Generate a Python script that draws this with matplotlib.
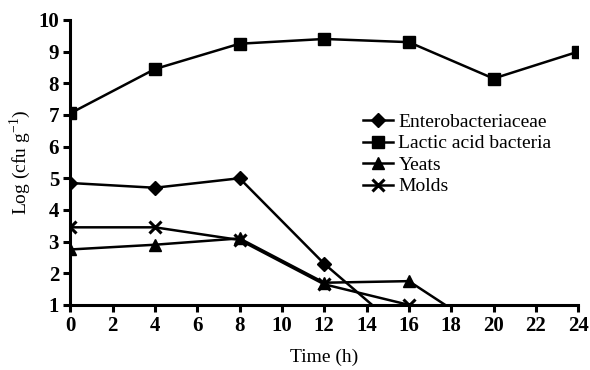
import matplotlib.pyplot as plt

plt.rcParams['font.family'] = 'Liberation Serif'
plt.rcParams['mathtext.fontset'] = 'custom'
plt.rcParams['mathtext.rm'] = 'Liberation Serif'

time = [0, 4, 8, 12, 16, 20, 24]
entero_t = [0, 4, 8, 12, 16]
entero = [4.85, 4.7, 5.0, 2.3, 0.0]
lab = [7.05, 8.45, 9.25, 9.4, 9.3, 8.15, 9.0]
yeast_t = [0, 4, 8, 12, 16, 20]
yeast = [2.75, 2.9, 3.1, 1.7, 1.75, 0.0]
mold_t = [0, 4, 8, 12, 16]
mold = [3.45, 3.45, 3.05, 1.65, 1.0]

fig = plt.figure(figsize=(5.9, 3.7), dpi=100)
ax = fig.add_axes([0.119, 0.176, 0.861, 0.77])

kw = dict(color='black', lw=1.8)
ax.plot(entero_t, entero, marker='D', ms=7, label='Enterobacteriaceae', **kw)
ax.plot(time, lab, marker='s', ms=8.5, label='Lactic acid bacteria', **kw)
ax.plot(yeast_t, yeast, marker='^', ms=8, label='Yeats', **kw)
ax.plot(mold_t, mold, marker='x', ms=8, mew=2.2, label='Molds', **kw)

ax.set_xlim(0, 24)
ax.set_ylim(1, 10)
ax.set_xticks(range(0, 25, 2))
ax.set_yticks(range(1, 11))
for s in ['top', 'right']:
    ax.spines[s].set_visible(False)
for s in ['left', 'bottom']:
    ax.spines[s].set_linewidth(2.2)
ax.tick_params(direction='out', width=2.2, length=5, labelsize=15, pad=3)
for t in ax.get_xticklabels() + ax.get_yticklabels():
    t.set_fontweight('bold')

ax.set_xlabel('Time (h)', fontsize=14, labelpad=9)
ax.set_ylabel('Log (cfu g$^{-1}$)', fontsize=14, labelpad=4)

ax.legend(loc='upper left', bbox_to_anchor=(0.562, 0.70), frameon=False,
          fontsize=14, handlelength=1.5, handletextpad=0.3, labelspacing=0.2,
          borderaxespad=0)

fig.savefig('out.png', dpi=100)
